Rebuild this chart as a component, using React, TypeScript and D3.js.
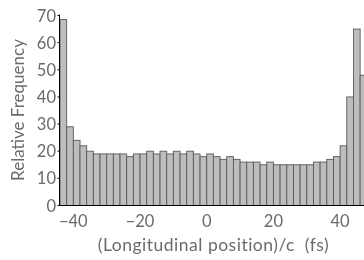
import React from "react";
import * as d3 from "d3";

const binStart = -44;
const binWidth = 2;
const frequencies = [
  68.5, 29, 24, 22, 20, 19, 19, 19, 19, 19, 18, 19, 19, 20, 19, 20, 19, 20, 19, 20,
  19, 18, 19, 18, 17, 18, 17, 16, 16, 16, 15, 16, 15, 15, 15, 15, 15, 15, 16, 16,
  17, 18, 22, 40, 65, 48,
];
const xTicks = [-40, -20, 0, 20, 40];
const yTicks = [0, 10, 20, 30, 40, 50, 60, 70];
const xTitle = "(Longitudinal position)/c  (fs)";
const yTitle = "Relative Frequency";

export default function App() {
  const W = 364, H = 260;
  const x = d3.scaleLinear().domain([-44, 48]).range([60, 366.8]);
  const y = d3.scaleLinear().domain([0, 70]).range([205.5, 15.5]);
  const font = "Lato, 'Open Sans', sans-serif";
  const textColor = "#6b6b6b";
  const bins = frequencies.map((f, i) => ({ x0: binStart + i * binWidth, x1: binStart + (i + 1) * binWidth, f }));
  return (
    <svg width={W} height={H} style={{ position: "fixed", left: 0, top: 0 }} fontFamily={font}>
      <defs>
        <clipPath id="plot">
          <rect x={0} y={0} width={W} height={H} />
        </clipPath>
      </defs>
      <g clipPath="url(#plot)">
        {bins.map((b, i) => (
          <rect
            key={i}
            x={x(b.x0)}
            y={y(b.f)}
            width={x(b.x1) - x(b.x0)}
            height={y(0) - y(b.f)}
            fill="#bdbdbd"
            stroke="#5a5a5a"
            strokeWidth={0.9}
          />
        ))}
      </g>
      <line x1={59.5} x2={59.5} y1={y(70) - 1} y2={y(0)} stroke="#000" strokeWidth={1} />
      <line x1={59.5} x2={W} y1={y(0)} y2={y(0)} stroke="#000" strokeWidth={1} />
      {yTicks.map((t) => (
        <g key={t}>
          <line x1={57.5} x2={59.5} y1={y(t)} y2={y(t)} stroke="#000" strokeWidth={1} />
          <text x={56} y={y(t) + 6} textAnchor="end" fontSize={16.5} fill={textColor}>
            {t}
          </text>
        </g>
      ))}
      {xTicks.map((t) => (
        <text key={t} x={x(t)} y={227} textAnchor="middle" fontSize={16.5} fill={textColor}>
          {t < 0 ? "\u2212" + Math.abs(t) : String(t)}
        </text>
      ))}
      <text x={213.5} y={251} textAnchor="middle" fontSize={17.5} letterSpacing={0.5} fill={textColor} style={{ whiteSpace: "pre" }}>
        {xTitle}
      </text>
      <text
        transform={`translate(24, 110) rotate(-90)`}
        textAnchor="middle"
        fontSize={17}
        fill={textColor}
      >
        {yTitle}
      </text>
    </svg>
  );
}
